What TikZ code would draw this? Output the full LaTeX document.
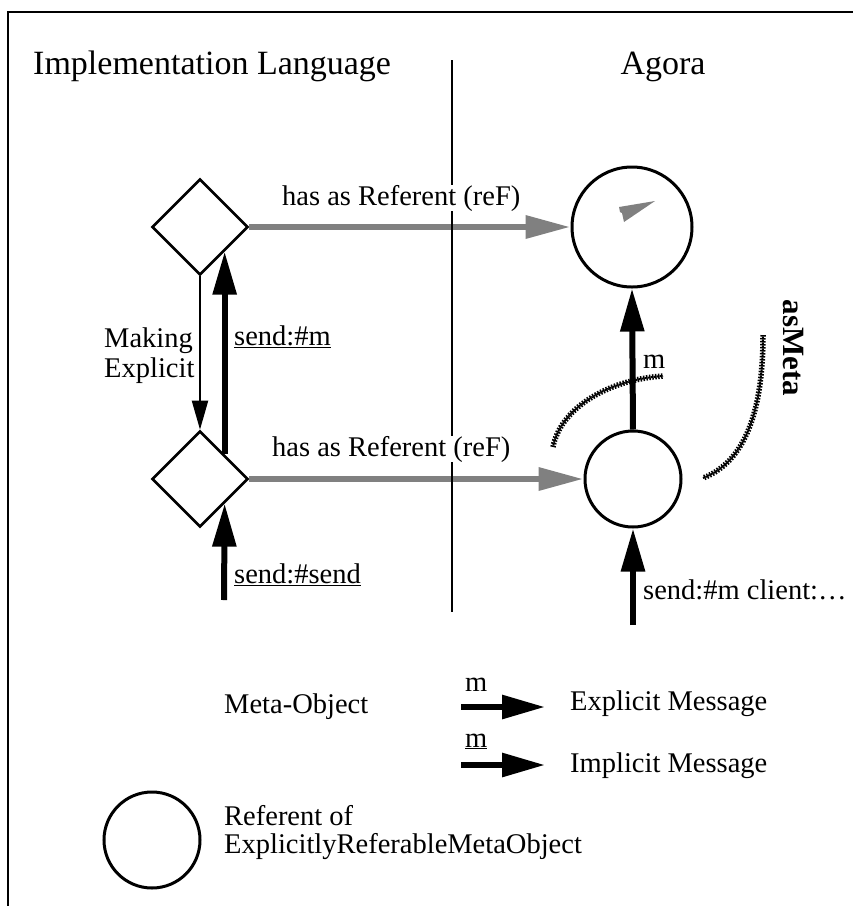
\documentclass[tikz,border=0pt]{standalone}
\usepackage{fontspec}
\setmainfont{Liberation Serif}
\usetikzlibrary{arrows.meta,shapes.geometric,calc}
\definecolor{refgray}{gray}{0.5}
\tikzset{
  frameline/.style={line width=2pt},
  metaobj/.style={draw, diamond, line width=2.6pt, minimum width=96pt,
    minimum height=96pt, inner sep=0pt, aspect=1},
  referent/.style={draw, circle, line width=3pt, inner sep=0pt},
  refarrow/.style={draw=refgray, line width=6.5pt, -{Triangle[length=45pt,width=22pt]}},
  msgarrow/.style={line width=6pt, -{Triangle[length=43pt,width=23pt]}},
  makearrow/.style={line width=2pt, -{Triangle[length=29pt,width=16pt]}},
  lbl/.style={inner sep=0pt, anchor=base west, font=\fontsize{28.5}{34}\selectfont},
  title/.style={inner sep=0pt, anchor=base, font=\fontsize{34}{41}\selectfont},
  metapath/.style={line width=5.5pt, dash pattern=on 1.5pt off 1.5pt},
  metapathinner/.style={line width=2pt, dash pattern=on 1.5pt off 1.5pt, dash phase=1.5pt}
}
\begin{document}
\begin{tikzpicture}[x=1pt, y=-1pt]
\useasboundingbox (0,0) rectangle (853,906);

% frame
\draw[frameline] (8,906) -- (8,12) -- (853,12);

% column headings
\node[title, anchor=base west] (hImpl) at (33,74) {Implementation Language};
\node[title] (hAgora) at (663,74) {Agora};

% meta-objects (implementation language side)
\node[metaobj] (d1) at (200,227) {};
\node[metaobj] (d2) at (200,479) {};

% referents (Agora side)
\node[referent, minimum size=120pt] (c1) at (632,227) {};
\node[referent, minimum size=96pt] (c2) at (633,479) {};

% small pointer inside the upper referent
\fill[refgray] (655,201) -- (619,207) -- (620,212) -- (622,213) -- (624,222) -- cycle;

% has-as-referent links
\draw[refarrow] (d1.east) -- (c1.west);
\draw[refarrow] (d2.east) -- (c2.west);

% divider between the two levels
\coordinate (divTop) at (452,60);
\coordinate (divBot) at (452,612);
\draw[line width=2pt] (divTop) -- (divBot);

\node[lbl, fill=white] (ref1) at (282,205) {has as Referent (reF)};
\node[lbl, fill=white] (ref2) at (272,456) {has as Referent (reF)};

% making explicit
\draw[makearrow] (d1.south) -- (d2.north);
\node[lbl] (mk1) at (104,347) {Making};
\node[lbl] (mk2) at (104,377) {Explicit};

% implicit messages on the left
\coordinate (d2ur) at ($(d2.north)!0.5!(d2.east)$);
\coordinate (d1lr) at ($(d1.south)!0.5!(d1.east)$);
\coordinate (d2lr) at ($(d2.south)!0.5!(d2.east)$);
\coordinate (sendIn) at (224,600);
\draw[msgarrow] (d2ur) -- (d1lr);
\draw[msgarrow] (sendIn) -- (d2lr);
\node[lbl] (sm) at (234,345) {\underline{send:\#m}};
\node[lbl] (ss) at (234,583) {\underline{send:\#send}};

% explicit messages on the right
\draw[msgarrow] (c2.north) -- (c1.south);
\node[lbl] (mlab) at (643,368) {m};
\coordinate (clientIn) at (633,625);
\draw[msgarrow] (clientIn) -- (c2.south);
\node[lbl] (smc) at (643,599) {send:\#m client:…};

% asMeta relation
\draw[metapath] (553,447) .. controls (560,410) and (605,380) .. (663,376);
\draw[metapathinner] (553,447) .. controls (560,410) and (605,380) .. (663,376);
\draw[metapath] (763,335) .. controls (763,400) and (750,460) .. (703,478);
\draw[metapathinner] (763,335) .. controls (763,400) and (750,460) .. (703,478);
\node[inner sep=0pt, rotate=-90, anchor=base, font=\fontsize{31}{37}\selectfont\bfseries] (asmeta) at (783,348) {asMeta};

% legend
\node[lbl] (lgMeta) at (224,713) {Meta-Object};
\coordinate (lgA1) at (461,707);
\coordinate (lgB1) at (545,707);
\coordinate (lgA2) at (461,765);
\coordinate (lgB2) at (545,765);
\draw[msgarrow] (lgA1) -- (lgB1);
\draw[msgarrow] (lgA2) -- (lgB2);
\node[lbl] (lgm1) at (465,691) {m};
\node[lbl] (lgm2) at (465,747) {\underline{m}};
\node[lbl] (lgExp) at (570,710) {Explicit Message};
\node[lbl] (lgImp) at (570,772) {Implicit Message};
\node[referent, minimum size=96pt] (lgCirc) at (152,840) {};
\node[lbl] (lgRef1) at (224,825) {Referent of};
\node[lbl] (lgRef2) at (224,853) {ExplicitlyReferableMetaObject};
\end{tikzpicture}
\end{document}
